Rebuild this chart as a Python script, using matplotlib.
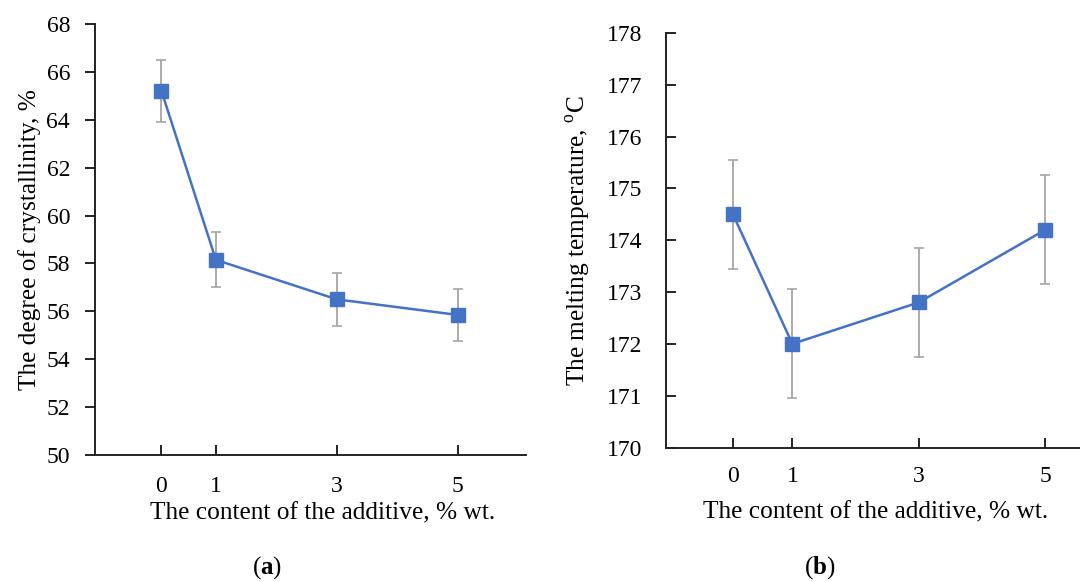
import matplotlib.pyplot as plt
import numpy as np

plt.rcParams['font.family'] = ['Liberation Serif', 'DejaVu Serif']
plt.rcParams['mathtext.fontset'] = 'custom'
plt.rcParams['mathtext.rm'] = 'Liberation Serif'
plt.rcParams['mathtext.bf'] = 'Liberation Serif:bold'

# additive content, % wt.
content = [0, 1, 3, 5]
tick_labels = ['0', '1', '3', '5']

# (a) degree of crystallinity, %
cryst = [65.2, 58.15, 56.5, 55.85]
cryst_err = [1.3, 1.15, 1.1, 1.1]

# (b) melting temperature, C
tmelt = [174.5, 172.0, 172.8, 174.2]
tmelt_err = [1.05, 1.05, 1.05, 1.05]

W, H = 1080, 581
fig = plt.figure(figsize=(W / 100, H / 100), dpi=100)


def px_axes(x0, x1, ytop, ybot):
    return fig.add_axes([x0 / W, 1 - ybot / H, (x1 - x0) / W, (ybot - ytop) / H])


blue = '#4472C4'
grey = '#A5A5A5'


def draw(ax, xpos, y, err):
    ax.errorbar(xpos, y, yerr=err, fmt='none', ecolor=grey, elinewidth=1.3,
                capsize=3.5, capthick=1.2, zorder=2)
    ax.plot(xpos, y, '-', color=blue, lw=1.8, marker='s', ms=9.5,
            markerfacecolor=blue, markeredgecolor=blue, zorder=3)
    for s in ['top', 'right']:
        ax.spines[s].set_visible(False)
    for s in ['left', 'bottom']:
        ax.spines[s].set_linewidth(1.4)
        ax.spines[s].set_color('#222222')
    ax.set_xticks(xpos)
    ax.set_xticklabels(tick_labels)
    ax.tick_params(axis='x', direction='in', length=7, width=1.4, labelsize=17, pad=15,
                   color='#222222')


# panel (a)
ax1 = px_axes(95, 526, 24, 455)
xa = np.array(content, dtype=float)
xa[0] = 0.10
draw(ax1, xa, cryst, cryst_err)
ax1.set_xlim(-1.0, 6.13)
ax1.set_ylim(50, 68)
ax1.set_yticks(np.arange(50, 69, 2))
ax1.tick_params(axis='y', direction='out', length=7, width=1.4, labelsize=17, pad=11,
                color='#222222')
ax1.set_xlabel('The content of the additive, % wt.', fontsize=18.3, labelpad=4)
ax1.xaxis.label.set_x(0.527)
ax1.set_ylabel('The degree of crystallinity, %', fontsize=18.3, labelpad=4)

# panel (b)
ax2 = px_axes(666, 666 + 7.13 * 63.18, 33, 447.5)
xb = np.array(content, dtype=float)
xb[0] = 0.06
draw(ax2, xb, tmelt, tmelt_err)
ax2.set_xlim(-1.0, 6.13)
ax2.set_ylim(170, 178)
ax2.set_yticks(np.arange(170, 179, 1))
ax2.tick_params(axis='y', direction='in', length=7, width=1.4, labelsize=17, pad=17,
                color='#222222')
ax2.tick_params(axis='x', pad=13)
ax2.set_xlabel('The content of the additive, % wt.', fontsize=18.3, labelpad=11)
ax2.xaxis.label.set_x(0.466)
ax2.set_ylabel('The melting temperature, ºC'.replace('º', '$^{\\rm o}$'), fontsize=18.3,
               labelpad=10)

fig.text(267 / W, 1 - 568 / H, r'($\mathbf{a}$)', fontsize=18, ha='center', va='center')
fig.text(820 / W, 1 - 568 / H, r'($\mathbf{b}$)', fontsize=18, ha='center', va='center')

fig.savefig('out.png', dpi=100)
